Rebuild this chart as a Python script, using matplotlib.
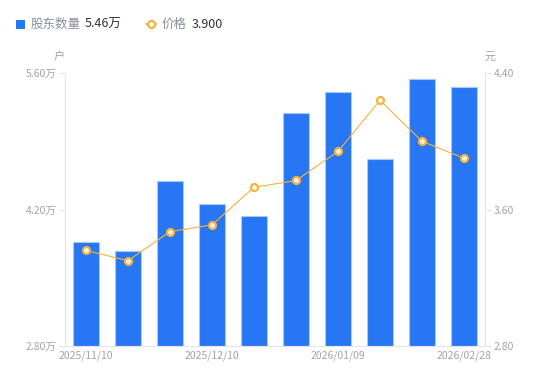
import matplotlib
matplotlib.use("Agg")
import matplotlib.pyplot as plt
from matplotlib.lines import Line2D
from matplotlib.patches import Rectangle

plt.rcParams['font.family'] = ['Noto Sans CJK SC', 'DejaVu Sans']

dates = ["2025/11/10", "2025/11/20", "2025/11/30", "2025/12/10", "2025/12/20",
         "2025/12/31", "2026/01/09", "2026/01/20", "2026/02/10", "2026/02/28"]
holders = [3.87, 3.77, 4.49, 4.26, 4.13, 5.19, 5.41, 4.72, 5.54, 5.46]  # 万户
price = [3.36, 3.30, 3.47, 3.51, 3.73, 3.77, 3.94, 4.24, 4.00, 3.90]
left_ticks = [2.80, 4.20, 5.60]
right_ticks = [2.80, 3.60, 4.40]
shown_dates = [0, 3, 6, 9]

bar_color = "#2776F3"
line_color = "#F8B23A"
tick_color = "#9EA3B0"
axis_color = "#E3E5EA"

fig = plt.figure(figsize=(5.5, 3.81), dpi=100)
ax = fig.add_axes([65 / 550, 1 - 346 / 381, 420 / 550, 273 / 381])
ax2 = ax.twinx()

x = list(range(len(dates)))
ax.bar(x, [h - left_ticks[0] for h in holders], bottom=left_ticks[0], width=0.6,
       color=bar_color, edgecolor="#A9C8FA", linewidth=0.8, zorder=2)
ax.set_xlim(-0.5, len(dates) - 0.5)
ax.set_ylim(left_ticks[0], left_ticks[-1])
ax.set_yticks(left_ticks)
ax.set_yticklabels([f"{v:.2f}万" for v in left_ticks])
ax.set_xticks(shown_dates)
ax.set_xticklabels([dates[i] for i in shown_dates])

ax2.plot(x, price, color=line_color, linewidth=0.8, marker="o", markersize=5,
         markerfacecolor="white", markeredgecolor=line_color, markeredgewidth=1.6, zorder=3)
ax2.set_ylim(right_ticks[0], right_ticks[-1])
ax2.set_yticks(right_ticks)
ax2.set_yticklabels([f"{v:.2f}" for v in right_ticks])

for a in (ax, ax2):
    for s in a.spines.values():
        s.set_visible(False)
    a.tick_params(axis="y", colors=axis_color, labelcolor=tick_color, labelsize=7.5,
                  length=4, width=0.8, pad=2)
ax.spines["left"].set_visible(True)
ax.spines["left"].set_color(axis_color)
ax.spines["bottom"].set_visible(True)
ax.spines["bottom"].set_color(axis_color)
ax2.spines["right"].set_visible(True)
ax2.spines["right"].set_color(axis_color)
ax.tick_params(axis="x", length=0, labelcolor=tick_color, labelsize=7.5, pad=3)

fig.text(59 / 550, 1 - 57 / 381, "户", color=tick_color, fontsize=8, ha="center", va="center")
fig.text(490 / 550, 1 - 57 / 381, "元", color=tick_color, fontsize=8, ha="center", va="center")

# legend
fig.patches.append(Rectangle((16 / 550, 1 - 29 / 381), 9 / 550, 9 / 381, transform=fig.transFigure,
                             facecolor=bar_color, edgecolor="none"))
fig.text(31 / 550, 1 - 24 / 381, "股东数量", color="#8A8F9C", fontsize=9, va="center")
fig.text(85 / 550, 1 - 24 / 381, f"{holders[-1]:.2f}万", color="#333333", fontsize=9, va="center")
fig.lines.append(Line2D([146 / 550, 156 / 550], [1 - 24 / 381] * 2, transform=fig.transFigure,
                        color=line_color, linewidth=1.2, marker="o", markevery=[0],
                        markersize=0))
fig.lines.append(Line2D([151 / 550], [1 - 24 / 381], transform=fig.transFigure,
                        color=line_color, marker="o", markersize=5, markerfacecolor="white",
                        markeredgewidth=1.6))
fig.text(162 / 550, 1 - 24 / 381, "价格", color="#8A8F9C", fontsize=9, va="center")
fig.text(192 / 550, 1 - 24 / 381, f"{price[-1]:.3f}", color="#333333", fontsize=9, va="center")

fig.savefig("out.png", dpi=100)
